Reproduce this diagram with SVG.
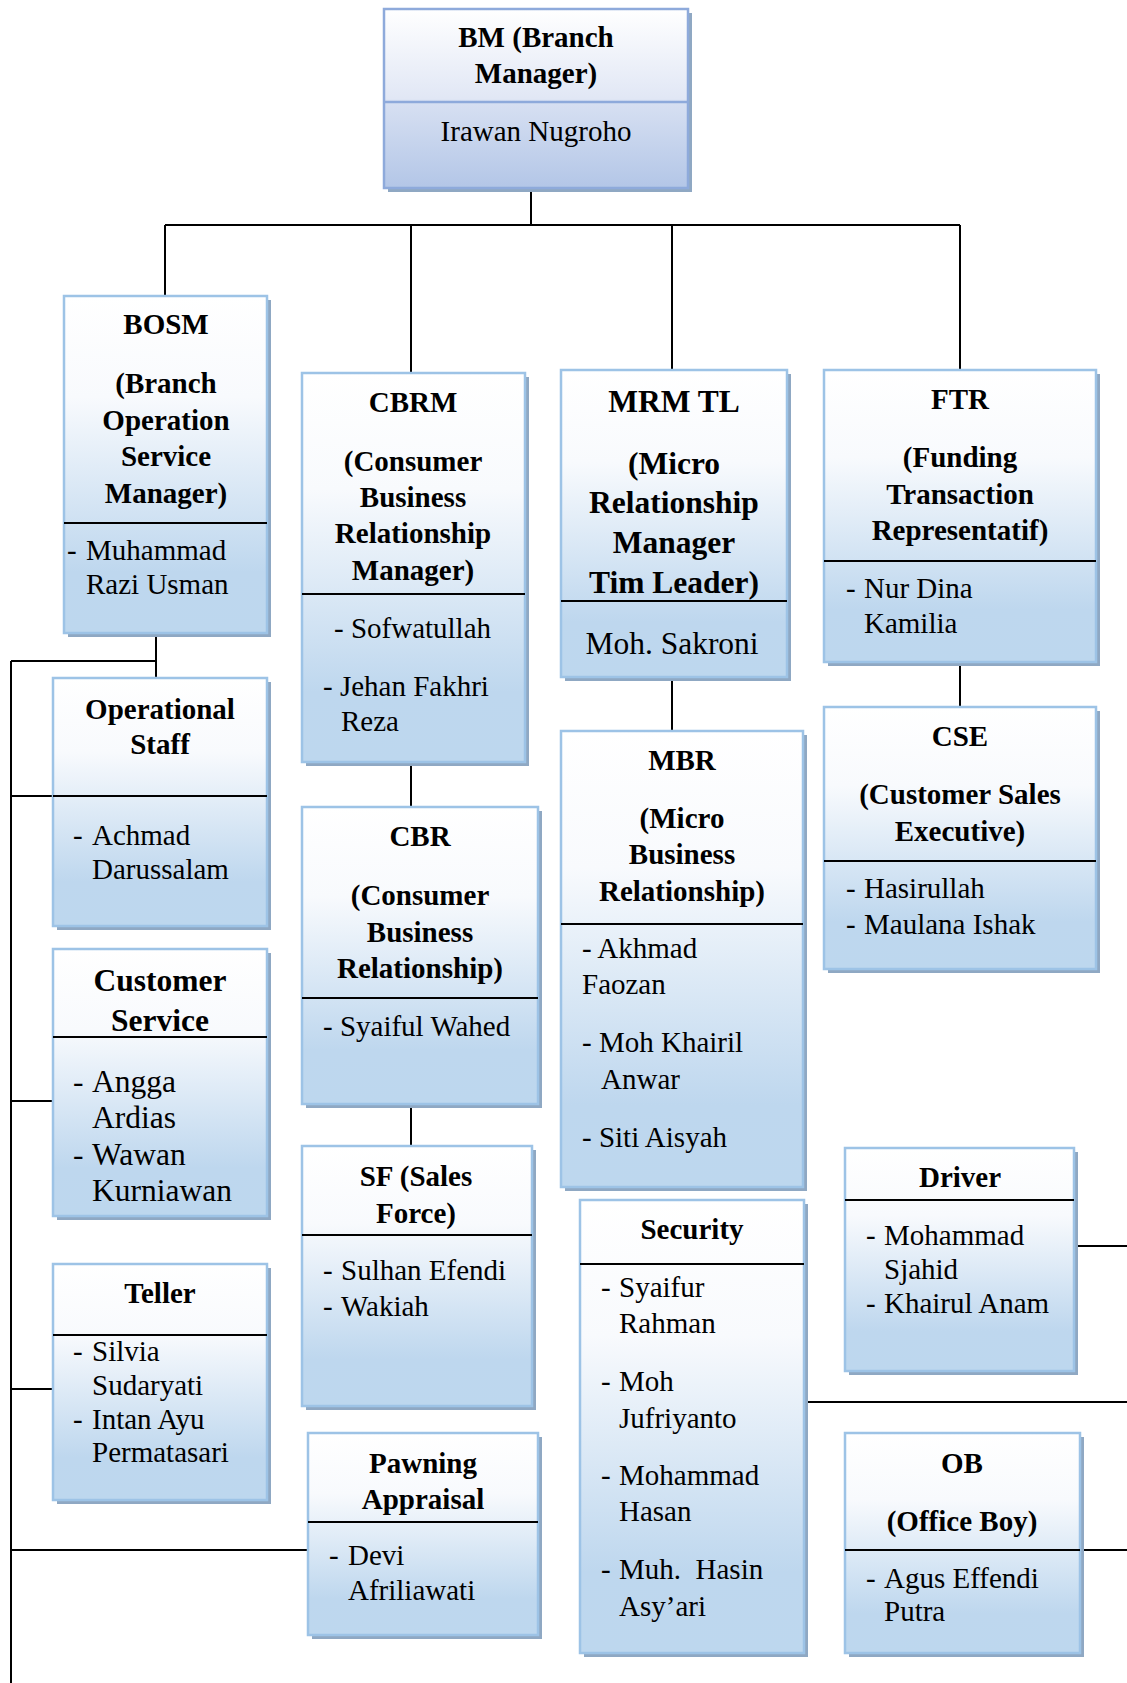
<svg xmlns="http://www.w3.org/2000/svg" width="1127" height="1683" viewBox="0 0 1127 1683">
<defs>
<linearGradient id="g" x1="0" y1="0" x2="0" y2="1">
<stop offset="0" stop-color="#ffffff"/>
<stop offset="0.3" stop-color="#f8fafd"/>
<stop offset="0.82" stop-color="#bed7ee"/>
<stop offset="1" stop-color="#bdd7ee"/>
</linearGradient>
<linearGradient id="gbm" x1="0" y1="0" x2="0" y2="1">
<stop offset="0" stop-color="#ffffff"/>
<stop offset="0.5" stop-color="#e1e7f5"/>
<stop offset="0.52" stop-color="#d7e0f2"/>
<stop offset="1" stop-color="#b3c6e7"/>
</linearGradient>
</defs>
<style>
.sh{fill:#8fa8c3}
.box{fill:url(#g);stroke:#9dc3e6;stroke-width:2.5}
.bm{fill:url(#gbm);stroke:#8eaadb;stroke-width:2.5}
.dv{stroke:#000;stroke-width:1.8}
.c{stroke:#000;stroke-width:2;fill:none}
text{font-family:"Liberation Serif","Times New Roman",serif;font-size:29px;fill:#000}
.t{font-weight:bold;text-anchor:middle}
.m{text-anchor:middle}
.big{font-size:31.5px}
</style>

<g id="connectors">
<path class="c" d="M531 188V225"/>
<path class="c" d="M165 225H960" stroke-width="2.6"/>
<path class="c" d="M165 225V296M411 225V373M672 225V370M960 225V370"/>
<path class="c" d="M156 633V678M11 661H156M11 661V1683"/>
<path class="c" d="M11 796H53M11 1101H53M11 1389H53M11 1550H308"/>
<path class="c" d="M411 762V807M411 1104V1146"/>
<path class="c" d="M672 677V731"/>
<path class="c" d="M960 662V707"/>
<path class="c" d="M1074 1246H1127M804 1402H1127M1080 1550H1127"/>
</g>

<g id="bm">
<rect x="388" y="13" width="304" height="179" class="sh"/>
<rect x="384" y="9" width="304" height="179" class="bm"/>
<line x1="384" y1="102" x2="688" y2="102" stroke="#8eaadb" stroke-width="2.5"/>
<text class="t" x="536" y="47">BM (Branch</text>
<text class="t" x="536" y="83">Manager)</text>
<text class="m" x="536" y="141">Irawan Nugroho</text>
</g>

<g id="bosm">
<rect x="68" y="300" width="203" height="337" class="sh"/>
<rect x="64" y="296" width="203" height="337" class="box"/>
<line x1="64" y1="523" x2="267" y2="523" class="dv"/>
<text class="t" x="166" y="334">BOSM</text>
<text class="t" x="166" y="393">(Branch</text>
<text class="t" x="166" y="430">Operation</text>
<text class="t" x="166" y="466">Service</text>
<text class="t" x="166" y="503">Manager)</text>
<text x="67" y="560">-<tspan x="86">Muhammad</tspan></text>
<text x="86" y="594">Razi Usman</text>
</g>

<g id="operational-staff">
<rect x="57" y="682" width="214" height="248" class="sh"/>
<rect x="53" y="678" width="214" height="248" class="box"/>
<line x1="53" y1="796" x2="267" y2="796" class="dv"/>
<text class="t" x="160" y="719">Operational</text>
<text class="t" x="160" y="754">Staff</text>
<text x="73" y="845">-<tspan x="92">Achmad</tspan></text>
<text x="92" y="879">Darussalam</text>
</g>

<g id="customer-service">
<rect x="57" y="953" width="214" height="267" class="sh"/>
<rect x="53" y="949" width="214" height="267" class="box"/>
<line x1="53" y1="1037" x2="267" y2="1037" class="dv"/>
<text class="t big" x="160" y="991">Customer</text>
<text class="t big" x="160" y="1031">Service</text>
<text class="big" x="73" y="1092">-<tspan x="92">Angga</tspan></text>
<text class="big" x="92" y="1128">Ardias</text>
<text class="big" x="73" y="1165">-<tspan x="92">Wawan</tspan></text>
<text class="big" x="92" y="1201">Kurniawan</text>
</g>

<g id="teller">
<rect x="57" y="1268" width="214" height="236" class="sh"/>
<rect x="53" y="1264" width="214" height="236" class="box"/>
<line x1="53" y1="1335" x2="267" y2="1335" class="dv"/>
<text class="t" x="160" y="1303">Teller</text>
<text x="73" y="1361">-<tspan x="92">Silvia</tspan></text>
<text x="92" y="1395">Sudaryati</text>
<text x="73" y="1429">-<tspan x="92">Intan Ayu</tspan></text>
<text x="92" y="1462">Permatasari</text>
</g>

<g id="cbrm">
<rect x="306" y="377" width="223" height="389" class="sh"/>
<rect x="302" y="373" width="223" height="389" class="box"/>
<line x1="302" y1="594" x2="525" y2="594" class="dv"/>
<text class="t" x="413" y="412">CBRM</text>
<text class="t" x="413" y="471">(Consumer</text>
<text class="t" x="413" y="507">Business</text>
<text class="t" x="413" y="543">Relationship</text>
<text class="t" x="413" y="580">Manager)</text>
<text x="334" y="638">- Sofwatullah</text>
<text x="323" y="696">- Jehan Fakhri</text>
<text x="341" y="731">Reza</text>
</g>

<g id="cbr">
<rect x="306" y="811" width="236" height="297" class="sh"/>
<rect x="302" y="807" width="236" height="297" class="box"/>
<line x1="302" y1="998" x2="538" y2="998" class="dv"/>
<text class="t" x="420" y="846">CBR</text>
<text class="t" x="420" y="905">(Consumer</text>
<text class="t" x="420" y="942">Business</text>
<text class="t" x="420" y="978">Relationship)</text>
<text x="323" y="1036">- Syaiful Wahed</text>
</g>

<g id="sf">
<rect x="306" y="1150" width="230" height="260" class="sh"/>
<rect x="302" y="1146" width="230" height="260" class="box"/>
<line x1="302" y1="1235" x2="532" y2="1235" class="dv"/>
<text class="t" x="416" y="1186">SF (Sales</text>
<text class="t" x="416" y="1223">Force)</text>
<text x="323" y="1280">-<tspan x="341">Sulhan Efendi</tspan></text>
<text x="323" y="1316">-<tspan x="341">Wakiah</tspan></text>
</g>

<g id="pawning-appraisal">
<rect x="312" y="1437" width="230" height="202" class="sh"/>
<rect x="308" y="1433" width="230" height="202" class="box"/>
<line x1="308" y1="1522" x2="538" y2="1522" class="dv"/>
<text class="t" x="423" y="1473">Pawning</text>
<text class="t" x="423" y="1509">Appraisal</text>
<text x="329" y="1565">-<tspan x="348">Devi</tspan></text>
<text x="348" y="1600">Afriliawati</text>
</g>

<g id="mrm-tl">
<rect x="565" y="374" width="226" height="307" class="sh"/>
<rect x="561" y="370" width="226" height="307" class="box"/>
<line x1="561" y1="601" x2="787" y2="601" class="dv"/>
<text class="t big" x="674" y="412">MRM TL</text>
<text class="t big" x="674" y="474">(Micro</text>
<text class="t big" x="674" y="513">Relationship</text>
<text class="t big" x="674" y="553">Manager</text>
<text class="t big" x="674" y="593">Tim Leader)</text>
<text class="m big" x="672" y="654">Moh. Sakroni</text>
</g>

<g id="mbr">
<rect x="565" y="735" width="242" height="456" class="sh"/>
<rect x="561" y="731" width="242" height="456" class="box"/>
<line x1="561" y1="924" x2="803" y2="924" class="dv"/>
<text class="t" x="682" y="770">MBR</text>
<text class="t" x="682" y="828">(Micro</text>
<text class="t" x="682" y="864">Business</text>
<text class="t" x="682" y="901">Relationship)</text>
<text x="582" y="958">- Akhmad</text>
<text x="582" y="994">Faozan</text>
<text x="582" y="1052">- Moh Khairil</text>
<text x="601" y="1089">Anwar</text>
<text x="582" y="1147">- Siti Aisyah</text>
</g>

<g id="security">
<rect x="584" y="1204" width="224" height="453" class="sh"/>
<rect x="580" y="1200" width="224" height="453" class="box"/>
<line x1="580" y1="1264" x2="804" y2="1264" class="dv"/>
<text class="t" x="692" y="1239">Security</text>
<text x="601" y="1297">-<tspan x="619">Syaifur</tspan></text>
<text x="619" y="1333">Rahman</text>
<text x="601" y="1391">-<tspan x="619">Moh</tspan></text>
<text x="619" y="1428">Jufriyanto</text>
<text x="601" y="1485">-<tspan x="619">Mohammad</tspan></text>
<text x="619" y="1521">Hasan</text>
<text x="601" y="1579">-<tspan x="619">Muh.&#160; Hasin</tspan></text>
<text x="619" y="1616">Asy’ari</text>
</g>

<g id="ftr">
<rect x="828" y="374" width="272" height="292" class="sh"/>
<rect x="824" y="370" width="272" height="292" class="box"/>
<line x1="824" y1="561" x2="1096" y2="561" class="dv"/>
<text class="t" x="960" y="409">FTR</text>
<text class="t" x="960" y="467">(Funding</text>
<text class="t" x="960" y="504">Transaction</text>
<text class="t" x="960" y="540">Representatif)</text>
<text x="846" y="598">-<tspan x="864">Nur Dina</tspan></text>
<text x="864" y="633">Kamilia</text>
</g>

<g id="cse">
<rect x="828" y="711" width="272" height="262" class="sh"/>
<rect x="824" y="707" width="272" height="262" class="box"/>
<line x1="824" y1="861" x2="1096" y2="861" class="dv"/>
<text class="t" x="960" y="746">CSE</text>
<text class="t" x="960" y="804">(Customer Sales</text>
<text class="t" x="960" y="841">Executive)</text>
<text x="846" y="898">-<tspan x="864">Hasirullah</tspan></text>
<text x="846" y="934">-<tspan x="864">Maulana Ishak</tspan></text>
</g>

<g id="driver">
<rect x="849" y="1152" width="229" height="223" class="sh"/>
<rect x="845" y="1148" width="229" height="223" class="box"/>
<line x1="845" y1="1200" x2="1074" y2="1200" class="dv"/>
<text class="t" x="960" y="1187">Driver</text>
<text x="866" y="1245">-<tspan x="884">Mohammad</tspan></text>
<text x="884" y="1279">Sjahid</text>
<text x="866" y="1313">-<tspan x="884">Khairul Anam</tspan></text>
</g>

<g id="ob">
<rect x="849" y="1437" width="235" height="220" class="sh"/>
<rect x="845" y="1433" width="235" height="220" class="box"/>
<line x1="845" y1="1550" x2="1080" y2="1550" class="dv"/>
<text class="t" x="962" y="1473">OB</text>
<text class="t" x="962" y="1531">(Office Boy)</text>
<text x="866" y="1588">-<tspan x="884">Agus Effendi</tspan></text>
<text x="884" y="1621">Putra</text>
</g>
</svg>
